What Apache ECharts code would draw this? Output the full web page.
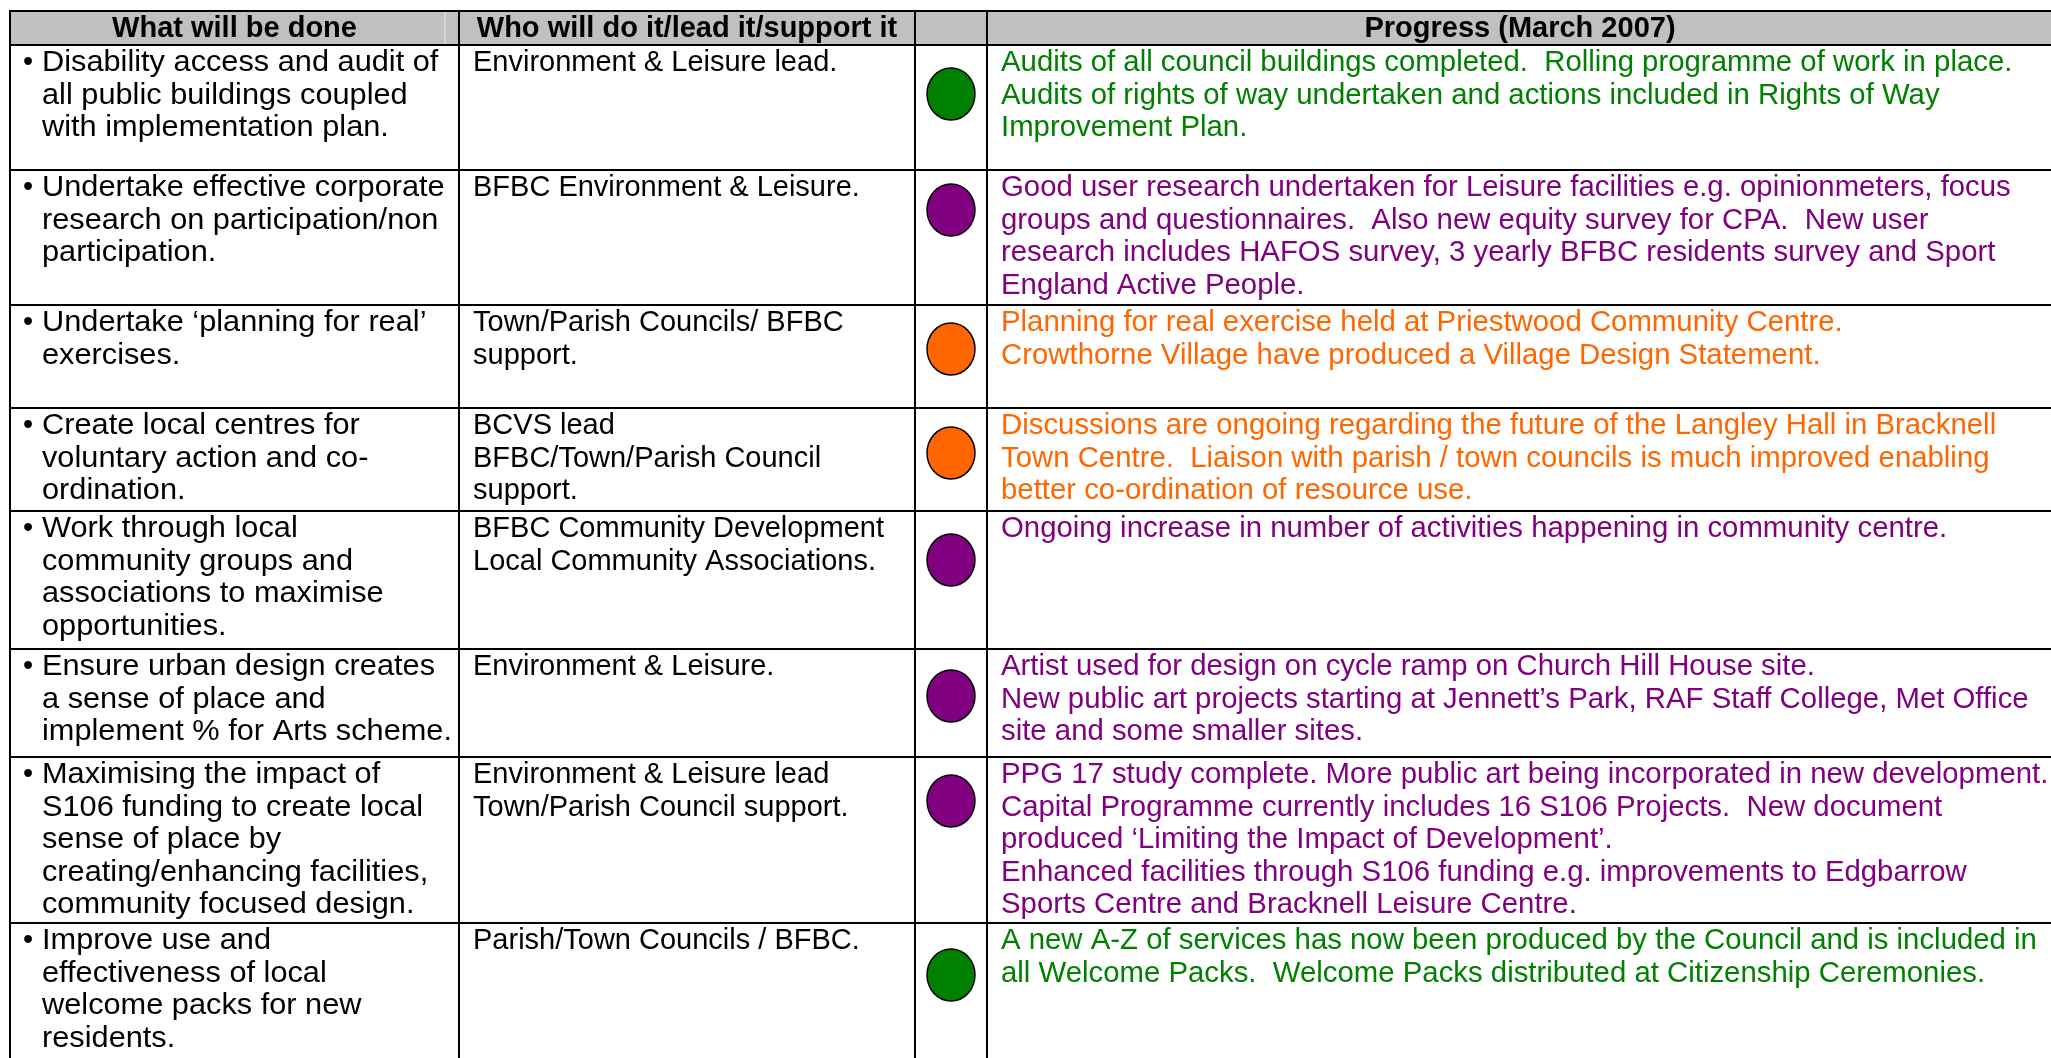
<!DOCTYPE html>
<html>
<head>
<meta charset="utf-8">
<script src="https://cdn.jsdelivr.net/npm/echarts@6/dist/echarts.min.js"></script>
<style>
html,body{margin:0;padding:0;background:#ffffff;overflow:hidden}
#chart{width:2051px;height:1058px}
</style>
</head>
<body>
<div id="chart"></div>
<script>
// ---------------- DATA ----------------
const headers = ['What will be done', 'Who will do it/lead it/support it', '', 'Progress (March 2007)'];

const actions = [
  ['Disability access and audit of', 'all public buildings coupled', 'with implementation plan.'],
  ['Undertake effective corporate', 'research on participation/non', 'participation.'],
  ['Undertake \u2018planning for real\u2019', 'exercises.'],
  ['Create local centres for', 'voluntary action and co-', 'ordination.'],
  ['Work through local', 'community groups and', 'associations to maximise', 'opportunities.'],
  ['Ensure urban design creates', 'a sense of place and', 'implement % for Arts scheme.'],
  ['Maximising the impact of', 'S106 funding to create local', 'sense of place by', 'creating/enhancing facilities,', 'community focused design.'],
  ['Improve use and', 'effectiveness of local', 'welcome packs for new', 'residents.']
];

const owners = [
  ['Environment & Leisure lead.'],
  ['BFBC Environment & Leisure.'],
  ['Town/Parish Councils/ BFBC', 'support.'],
  ['BCVS lead', 'BFBC/Town/Parish Council', 'support.'],
  ['BFBC Community Development', 'Local Community Associations.'],
  ['Environment & Leisure.'],
  ['Environment & Leisure lead', 'Town/Parish Council support.'],
  ['Parish/Town Councils / BFBC.']
];

const statuses = ['green', 'purple', 'orange', 'orange', 'purple', 'purple', 'purple', 'green'];

const progress = [
  ['Audits of all council buildings completed.  Rolling programme of work in place.',
   'Audits of rights of way undertaken and actions included in Rights of Way',
   'Improvement Plan.'],
  ['Good user research undertaken for Leisure facilities e.g. opinionmeters, focus',
   'groups and questionnaires.  Also new equity survey for CPA.  New user',
   'research includes HAFOS survey, 3 yearly BFBC residents survey and Sport',
   'England Active People.'],
  ['Planning for real exercise held at Priestwood Community Centre.',
   'Crowthorne Village have produced a Village Design Statement.'],
  ['Discussions are ongoing regarding the future of the Langley Hall in Bracknell',
   'Town Centre.  Liaison with parish / town councils is much improved enabling',
   'better co-ordination of resource use.'],
  ['Ongoing increase in number of activities happening in community centre.'],
  ['Artist used for design on cycle ramp on Church Hill House site.',
   'New public art projects starting at Jennett\u2019s Park, RAF Staff College, Met Office',
   'site and some smaller sites.'],
  ['PPG 17 study complete. More public art being incorporated in new development.',
   'Capital Programme currently includes 16 S106 Projects.  New document',
   'produced \u2018Limiting the Impact of Development\u2019.',
   'Enhanced facilities through S106 funding e.g. improvements to Edgbarrow',
   'Sports Centre and Bracknell Leisure Centre.'],
  ['A new A-Z of services has now been produced by the Council and is included in',
   'all Welcome Packs.  Welcome Packs distributed at Citizenship Ceremonies.']
];

// ---------------- LAYOUT / STYLE ----------------
const W = 2051, H = 1058;
const colEdges = [10, 459, 915, 987, 2053];
const tableTop = 11, headerBottom = 45;
const rowHeights = [125, 135, 103, 103, 138, 108, 166, 220];
const circleOffsets = [49, 40, 44, 45, 49, 47, 44, 52];
const statusColors = { green: '#008000', purple: '#800080', orange: '#FF6600' };
const FONT = '"Liberation Sans", Arial, sans-serif';
const FS = 29, LH = 32.5;
const textPadTop = 2;
const bulletX = 28, col1TextX = 42, col2TextX = 473, col4TextX = 1001;
const col1Stretch = 1.06, col4Stretch = 1.012;
const circleSize = [48, 52];

const rowTops = [];
let acc = headerBottom;
for (let i = 0; i < rowHeights.length; i++) { rowTops.push(acc); acc += rowHeights[i]; }

function line(api, x1, y1, x2, y2, color, w) {
  const a = api.coord([x1, y1]), b = api.coord([x2, y2]);
  return { type: 'line', shape: { x1: a[0], y1: a[1], x2: b[0], y2: b[1] },
           style: { stroke: color || '#000', lineWidth: w || 2 }, z2: 5 };
}
function txt(api, x, y, str, opts, sx) {
  const p = api.coord([x, y]);
  return { type: 'text', x: p[0], y: p[1], z2: 10, scaleX: sx || 1,
    style: Object.assign({ text: str, fontFamily: FONT, fontSize: FS, lineHeight: LH,
      fill: '#000', align: 'left', verticalAlign: 'top' }, opts || {}) };
}

function renderHeader(params, api) {
  const p0 = api.coord([colEdges[0], tableTop]);
  const p1 = api.coord([colEdges[4], headerBottom]);
  const children = [
    { type: 'rect', shape: { x: p0[0], y: p0[1], width: p1[0] - p0[0], height: p1[1] - p0[1] },
      style: { fill: '#C0C0C0' }, z2: 1 },
    line(api, 445, tableTop, 445, headerBottom, '#DADADA', 1.5),
    line(api, colEdges[0] - 1, tableTop, colEdges[4], tableTop),
    line(api, colEdges[0] - 1, headerBottom, colEdges[4], headerBottom)
  ];
  colEdges.forEach(x => children.push(line(api, x, tableTop, x, headerBottom)));
  const midY = (tableTop + headerBottom) / 2 + 1;
  headers.forEach((h, i) => {
    if (!h) return;
    const cx = (colEdges[i] + colEdges[i + 1]) / 2;
    children.push(txt(api, cx, midY, h, { fontWeight: 'bold', align: 'center', verticalAlign: 'middle', lineHeight: 34 }));
  });
  return { type: 'group', children };
}

function renderRow(params, api) {
  const r = api.value(0);
  const top = rowTops[r], bottom = top + rowHeights[r];
  const color = statusColors[statuses[r]];
  const children = [ line(api, colEdges[0] - 1, bottom, colEdges[4], bottom) ];
  colEdges.forEach(x => children.push(line(api, x, top, x, bottom)));
  const ty = top + textPadTop;
  children.push(txt(api, bulletX, ty, '\u2022', { align: 'center' }));
  children.push(txt(api, col1TextX, ty, actions[r].join('\n'), null, col1Stretch));
  children.push(txt(api, col2TextX, ty, owners[r].join('\n')));
  children.push(txt(api, col4TextX, ty, progress[r].join('\n'), { fill: color }, col4Stretch));
  return { type: 'group', children };
}

const chart = echarts.init(document.getElementById('chart'), null, { renderer: 'canvas' });
chart.setOption({
  animation: false,
  backgroundColor: '#ffffff',
  grid: { left: 0, top: 0, width: W, height: H, containLabel: false },
  xAxis: { type: 'value', min: 0, max: W, show: false },
  yAxis: { type: 'value', min: 0, max: H, inverse: true, show: false },
  series: [
    { type: 'custom', name: 'header', clip: false, data: [[0]], renderItem: renderHeader, silent: true },
    { type: 'custom', name: 'rows', clip: false, data: actions.map((_, i) => [i]), renderItem: renderRow, silent: true },
    { type: 'scatter', name: 'status', symbol: 'circle', symbolSize: circleSize, z: 5,
      data: statuses.map((s, i) => ({
        value: [(colEdges[2] + colEdges[3]) / 2, rowTops[i] + circleOffsets[i]],
        itemStyle: { color: statusColors[s], borderColor: '#000', borderWidth: 1.5, opacity: 1 }
      })) }
  ]
});
</script>
</body>
</html>
